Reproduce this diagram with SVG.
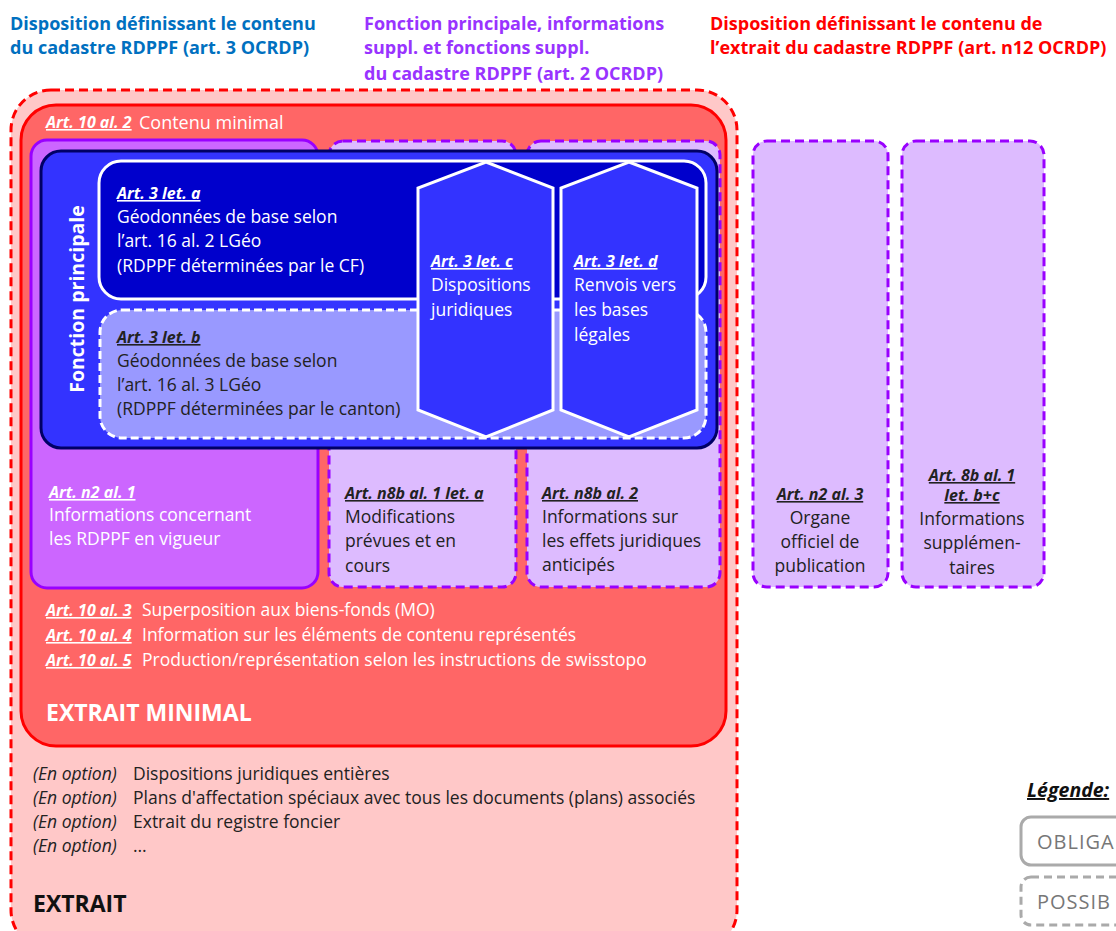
<svg xmlns="http://www.w3.org/2000/svg" width="1116" height="931" viewBox="0 0 1116 931">
<style>
text{font-family:"Open Sans","Liberation Sans",sans-serif;font-size:17.5px}
.hd{font-weight:bold;font-size:18px}
.art{font-weight:bold;font-style:italic;text-decoration:underline;font-size:16px}
.w{fill:#ffffff}
.k{fill:#222222}
.pd{fill:#DDBBFF;stroke:#9900FF;stroke-width:3;stroke-dasharray:9 5}
.mid{text-anchor:middle}
.big{font-weight:bold;font-size:23px}
.fp{font-weight:bold;font-size:19.5px}
.leg{font-size:19.5px}
.lg{fill:#777777;font-size:20px;letter-spacing:1px}
.cm{font-size:18px}
</style>
<rect width="1116" height="931" fill="#ffffff"/>
<g id="headers">
<text class="hd" x="10" y="30" fill="#0070C0">Disposition définissant le contenu</text>
<text class="hd" x="10" y="54" fill="#0070C0">du cadastre RDPPF (art. 3 OCRDP)</text>
<text class="hd" x="364" y="30" fill="#9933FF">Fonction principale, informations</text>
<text class="hd" x="364" y="54" fill="#9933FF">suppl. et fonctions suppl.</text>
<text class="hd" x="364" y="80" fill="#9933FF">du cadastre RDPPF (art. 2 OCRDP)</text>
<text class="hd" x="710" y="30" fill="#FF0000">Disposition définissant le contenu de</text>
<text class="hd" x="710" y="54" fill="#FF0000">l’extrait du cadastre RDPPF (art. n12 OCRDP)</text>
</g>
<g id="extrait">
<rect x="11" y="90" width="726" height="860" rx="40" fill="#FFC8C8" stroke="#FF0000" stroke-width="3" stroke-dasharray="9 5"/>
<text x="33" y="780" font-style="italic" class="k">(En option)</text><text x="133" y="780" class="k">Dispositions juridiques entières</text>
<text x="33" y="804" font-style="italic" class="k">(En option)</text><text x="133" y="804" class="k">Plans d'affectation spéciaux avec tous les documents (plans) associés</text>
<text x="33" y="828" font-style="italic" class="k">(En option)</text><text x="133" y="828" class="k">Extrait du registre foncier</text>
<text x="33" y="852" font-style="italic" class="k">(En option)</text><text x="133" y="852" class="k">…</text>
<text x="33" y="912" class="big" fill="#111111">EXTRAIT</text>
</g>
<g id="extrait-minimal">
<rect x="21" y="105" width="705" height="641" rx="35" fill="#FF6666" stroke="#FF0000" stroke-width="3"/>
<text x="46" y="128" class="art w">Art. 10 al. 2</text><text x="139" y="129" class="w cm">Contenu minimal</text>
<text x="46" y="616" class="art w">Art. 10 al. 3</text><text x="142" y="616" class="w">Superposition aux biens-fonds (MO)</text>
<text x="46" y="641" class="art w">Art. 10 al. 4</text><text x="142" y="641" class="w">Information sur les éléments de contenu représentés</text>
<text x="46" y="666" class="art w">Art. 10 al. 5</text><text x="142" y="666" class="w">Production/représentation selon les instructions de swisstopo</text>
<text x="46" y="721" class="big w">EXTRAIT MINIMAL</text>
</g>
<g id="col-n2-al1">
<rect x="31" y="140" width="287" height="448" rx="16" fill="#CC66FF" stroke="#9900FF" stroke-width="3"/>
<text x="49" y="498" class="art w">Art. n2 al. 1</text>
<text x="49" y="521" class="w">Informations concernant</text>
<text x="49" y="545" class="w">les RDPPF en vigueur</text>
</g>
<g id="col-n8b-al1">
<rect x="329" y="141" width="187" height="446" rx="14" class="pd"/>
<text x="345" y="499" class="art k">Art. n8b al. 1 let. a</text>
<text x="345" y="523" class="k">Modifications</text>
<text x="345" y="547" class="k">prévues et en</text>
<text x="345" y="572" class="k">cours</text>
</g>
<g id="col-n8b-al2">
<rect x="527" y="141" width="193" height="446" rx="14" class="pd"/>
<text x="542" y="499" class="art k">Art. n8b al. 2</text>
<text x="542" y="523" class="k">Informations sur</text>
<text x="542" y="547" class="k">les effets juridiques</text>
<text x="542" y="571" class="k">anticipés</text>
</g>
<g id="col-n2-al3">
<rect x="753" y="141" width="135" height="446" rx="14" class="pd"/>
<text x="820" y="500" class="art k mid">Art. n2 al. 3</text>
<text x="820" y="524" class="k mid">Organe</text>
<text x="820" y="548" class="k mid">officiel de</text>
<text x="820" y="572" class="k mid">publication</text>
</g>
<g id="col-8b-al1">
<rect x="902" y="141" width="142" height="446" rx="14" class="pd"/>
<text x="972" y="481" class="art k mid">Art. 8b al. 1</text>
<text x="972" y="501" class="art k mid">let. b+c</text>
<text x="972" y="525" class="k mid">Informations</text>
<text x="972" y="549" class="k mid">supplémen-</text>
<text x="972" y="574" class="k mid">taires</text>
</g>
<g id="fonction-principale">
<rect x="41" y="151" width="676" height="297" rx="20" fill="#3333FF" stroke="#000066" stroke-width="3"/>
<text transform="translate(84 299) rotate(-90)" class="w mid fp">Fonction principale</text>
</g>
<g id="art3-a">
<rect x="99" y="161" width="607" height="138" rx="22" fill="#0000CC" stroke="#ffffff" stroke-width="3"/>
<text x="117" y="199" class="art w">Art. 3 let. a</text>
<text x="117" y="223" class="w">Géodonnées de base selon</text>
<text x="117" y="247" class="w">l’art. 16 al. 2 LGéo</text>
<text x="117" y="272" class="w">(RDPPF déterminées par le CF)</text>
</g>
<g id="art3-b">
<rect x="100" y="310" width="606" height="128" rx="22" fill="#9999FF" stroke="#ffffff" stroke-width="3" stroke-dasharray="8 4"/>
<text x="117" y="343" class="art k">Art. 3 let. b</text>
<text x="117" y="367" class="k">Géodonnées de base selon</text>
<text x="117" y="391" class="k">l’art. 16 al. 3 LGéo</text>
<text x="117" y="415" class="k">(RDPPF déterminées par le canton)</text>
</g>
<g id="art3-c">
<polygon points="486,162 553,188 553,410 486,437 418,410 418,188" fill="#3333FF" stroke="#ffffff" stroke-width="3"/>
<text x="431" y="267" class="art w">Art. 3 let. c</text>
<text x="431" y="291" class="w">Dispositions</text>
<text x="431" y="316" class="w">juridiques</text>
</g>
<g id="art3-d">
<polygon points="629,162 697,188 697,410 629,437 561,410 561,188" fill="#3333FF" stroke="#ffffff" stroke-width="3"/>
<text x="574" y="267" class="art w">Art. 3 let. d</text>
<text x="574" y="291" class="w">Renvois vers</text>
<text x="574" y="316" class="w">les bases</text>
<text x="574" y="341" class="w">légales</text>
</g>
<g id="legende">
<text x="1027" y="797" class="art leg" fill="#111111">Légende:</text>
<rect x="1021" y="817" width="140" height="48" rx="10" fill="#ffffff" stroke="#AAAAAA" stroke-width="3"/>
<text x="1037" y="849" class="lg">OBLIGA</text>
<rect x="1021" y="877" width="140" height="48" rx="10" fill="#ffffff" stroke="#AAAAAA" stroke-width="3" stroke-dasharray="8 5"/>
<text x="1037" y="909" class="lg">POSSIB</text>
</g>
<g id="connectors"></g>
</svg>
